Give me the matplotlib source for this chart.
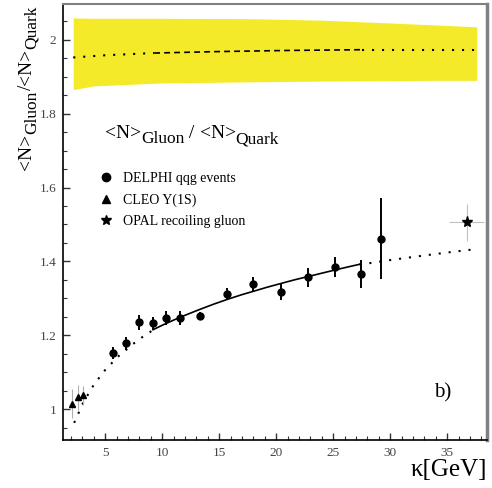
import numpy as np
import matplotlib
matplotlib.use("Agg")
import matplotlib.pyplot as plt
from matplotlib.lines import Line2D
from matplotlib.ticker import MultipleLocator

plt.rcParams['font.family'] = ['Liberation Serif', 'DejaVu Serif']

W, H = 492, 488

# --- DELPHI qqg events ---
delphi_k   = [5.7, 6.8, 8.0, 9.2, 10.35, 11.55, 13.3, 15.7, 18.0, 20.4, 22.8, 25.2, 27.4, 29.2]
delphi_r   = [1.151, 1.178, 1.235, 1.232, 1.247, 1.247, 1.252, 1.311, 1.340, 1.317, 1.357, 1.385, 1.367, 1.461]
delphi_err = [0.016, 0.018, 0.020, 0.017, 0.020, 0.020, 0.012, 0.016, 0.019, 0.021, 0.025, 0.028, 0.038, 0.110]

# --- CLEO Y(1S) ---
cleo_k   = [2.13, 2.6, 3.1]
cleo_r   = [1.015, 1.032, 1.037]
cleo_err = [0.040, 0.034, 0.026]

# --- OPAL recoiling gluon ---
opal_k, opal_r = [36.7], [1.506]
opal_kerr, opal_rerr = [1.5], [0.05]

# --- model curve (lower) ---
low_dot1_k = [2.28, 2.63, 2.98, 3.86, 4.85, 5.47, 6.08, 7.43, 8.16, 8.83, 9.2]
low_dot1_r = [0.963, 0.987, 1.012, 1.059, 1.101, 1.121, 1.141, 1.176, 1.193, 1.206, 1.215]
low_fit_k = [9.2, 10.0, 11.0, 12.0, 13.3, 14.5, 15.7, 17.0, 18.0, 19.2, 20.4, 21.6, 22.8, 24.0, 25.2, 26.3, 27.3]
low_fit_r = [1.215, 1.227, 1.241, 1.254, 1.270, 1.284, 1.297, 1.310, 1.319, 1.330, 1.340, 1.350, 1.359, 1.368, 1.377, 1.385, 1.392]
low_dot2_k = [27.3, 28.4, 30.1, 33.0, 35.0, 37.2]
low_dot2_r = [1.392, 1.396, 1.404, 1.416, 1.424, 1.432]

# --- asymptotic band (upper) ---
band_k  = [2.2, 4.0, 10.0, 17.7, 24.0, 29.5, 34.0, 37.6]
band_hi = [2.059, 2.058, 2.058, 2.057, 2.053, 2.046, 2.040, 2.035]
band_lo = [1.865, 1.875, 1.883, 1.886, 1.888, 1.889, 1.890, 1.890]
up_dot1_k = [2.2, 5.0, 9.3]
up_dot1_r = [1.952, 1.958, 1.964]
up_dash_k = [9.3, 15.0, 21.0, 27.5]
up_dash_r = [1.964, 1.968, 1.971, 1.973]
up_dot2_k = [27.5, 32.0, 37.6]
up_dot2_r = [1.973, 1.973, 1.973]

# ratio label pieces: (text, fontsize, subscript drop in px)
title_pieces = [('<N>', 14, 0), ('Gluon', 12.5, 5), (' / ', 14, 0), ('<N>', 14, 0), ('Quark', 12.5, 5)]
ylab_pieces  = [('<N>', 14, 0), ('Gluon', 12.5, 5), ('/', 14, 0), ('<N>', 14, 0), ('Quark', 12.5, 5)]


def draw_chain(fig, x0, y0, pieces, rotation=0):
    """Place text pieces one after another (x0, y0 = baseline start, pixels)."""
    renderer = fig.canvas.get_renderer()
    pos = 0.0
    for s, size, drop in pieces:
        if rotation == 0:
            x, y = x0 + pos, y0 - drop
        else:
            x, y = x0 + drop, y0 + pos
        t = fig.text(x / W, y / H, s, fontsize=size, rotation=rotation,
                     rotation_mode='anchor', ha='left', va='baseline')
        bb = t.get_window_extent(renderer)
        pos += bb.width if rotation == 0 else bb.height


fig = plt.figure(figsize=(W / 100, H / 100), dpi=100)
ax = fig.add_axes([0.128, 0.098, 0.862, 0.894])

ax.fill_between(band_k, band_lo, band_hi, color='#f5ea2a', lw=0)
ax.plot(up_dot1_k, up_dot1_r, color='black', lw=1.5, ls=(0, (1, 3.8)))
ax.plot(up_dash_k, up_dash_r, color='black', lw=1.2, ls=(0, (3.5, 2.5)))
ax.plot(up_dot2_k, up_dot2_r, color='black', lw=1.5, ls=(0, (1, 3.8)))

ax.plot(low_dot1_k, low_dot1_r, color='black', lw=1.5, ls=(0, (1, 3.8)))
ax.plot(low_fit_k, low_fit_r, color='black', lw=1.2)
ax.plot(low_dot2_k, low_dot2_r, color='black', lw=1.5, ls=(0, (1, 3.8)))

ax.errorbar(cleo_k, cleo_r, yerr=cleo_err, fmt='^', color='black', ms=5,
            ecolor='#b0b0b0', elinewidth=0.8, capsize=0)
ax.errorbar(opal_k, opal_r, xerr=opal_kerr, yerr=opal_rerr, fmt='*', color='black',
            ms=8, ecolor='#c0c0c0', elinewidth=0.8, capsize=0)
ax.errorbar(delphi_k, delphi_r, yerr=delphi_err, fmt='o', color='black', ms=5,
            elinewidth=1.4, capsize=0)

ax.set_xlim(1.3, 38.5)
ax.set_ylim(0.916, 2.097)
ax.xaxis.set_major_locator(MultipleLocator(5))
ax.xaxis.set_minor_locator(MultipleLocator(1))
ax.yaxis.set_major_locator(MultipleLocator(0.2))
ax.yaxis.set_minor_locator(MultipleLocator(0.05))
ax.yaxis.set_major_formatter(plt.FuncFormatter(lambda v, p: f'{v:g}'))
ax.tick_params(which='both', direction='in', top=False, right=False,
               labelsize=9.5, labelcolor='#444444', color='#333333')
ax.tick_params(which='major', length=5, width=1, pad=5)
ax.tick_params(which='minor', length=3, width=0.8)
for s in ['left', 'bottom']:
    ax.spines[s].set_linewidth(1.2)
for s in ['top', 'right']:
    ax.spines[s].set_color('#808080')
ax.spines['top'].set_linewidth(1.5)
ax.spines['right'].set_linewidth(2.5)

ax.text(34.6, 1.043, 'b)', fontsize=15, va='center', ha='center')

handles = [
    Line2D([], [], ls='none', marker='o', color='black', ms=6),
    Line2D([], [], ls='none', marker='^', color='black', ms=6),
    Line2D([], [], ls='none', marker='*', color='black', ms=7),
]
labels = ['DELPHI qqg events', 'CLEO Y(1S)', 'OPAL recoiling gluon']
ax.legend(handles, labels, loc='upper left', bbox_to_anchor=(0.085, 0.615),
          frameon=False, fontsize=10, handlelength=1.0, handletextpad=0.7,
          labelspacing=0.6, borderpad=0, borderaxespad=0)

fig.text(0.99, 0.037, 'κ[GeV]', fontsize=18, ha='right', va='center')

draw_chain(fig, 105, H - 138, title_pieces)
draw_chain(fig, 31, H - 170, ylab_pieces, rotation=90)

fig.savefig('out.png', dpi=100)
